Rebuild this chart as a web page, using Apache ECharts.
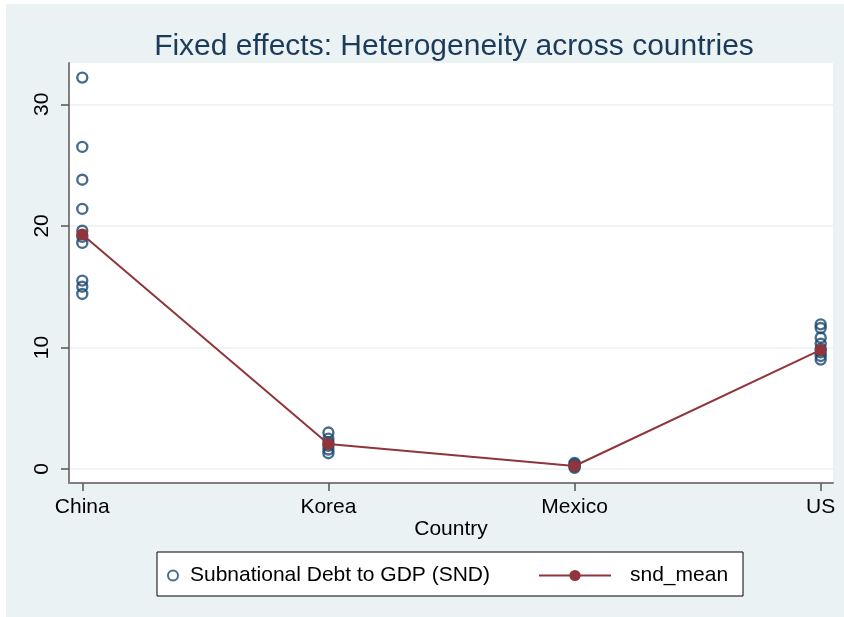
<!DOCTYPE html>
<html lang="en">

<head>
    <meta charset="UTF-8">
    <style>
        body {
            margin: 0;
            background: #fff;
        }

        #main {
            width: 844px;
            height: 617px;
        }
    </style>
    <title>Fixed effects</title>
</head>

<body>
    <div id="main"></div>

    <script src="https://cdn.jsdelivr.net/npm/echarts@6/dist/echarts.min.js"></script>
    <script>
        var countries = ['China', 'Korea', 'Mexico', 'US'];
        var sndChina = [32.2, 26.5, 23.8, 21.4, 19.6, 19.1, 18.6, 15.5, 15.0, 14.4];
        var sndKorea = [3.0, 2.5, 2.2, 1.9, 1.6, 1.3];
        var sndMexico = [0.5, 0.4, 0.3, 0.2, 0.1];
        var sndUS = [11.9, 11.6, 10.8, 10.3, 9.9, 9.6, 9.3, 9.0];
        var sndMean = [19.3, 2.05, 0.25, 9.8];
        var yTicks = [0, 10, 20, 30];

        var font = "'Liberation Sans', Arial, sans-serif";
        var navy = '#1a476f';
        var maroon = '#90353b';

        var scatterData = [];
        [sndChina, sndKorea, sndMexico, sndUS].forEach(function (arr, i) {
            arr.forEach(function (v) {
                scatterData.push([i, v]);
            });
        });
        var meanData = sndMean.map(function (v, i) {
            return [i, v];
        });

        var myChart = echarts.init(document.getElementById('main'));

        var option = {
            animation: false,
            backgroundColor: 'transparent',
            textStyle: { fontFamily: font },
            graphic: [{
                type: 'rect',
                z: -10,
                shape: { x: 6, y: 4, width: 838, height: 613 },
                style: { fill: '#eaf2f3' }
            }, {
                type: 'rect',
                z: -5,
                shape: { x: 157, y: 552, width: 586, height: 44 },
                style: { fill: '#fff', stroke: '#000', lineWidth: 1 }
            }],
            title: {
                text: 'Fixed effects: Heterogeneity across countries',
                left: 449,
                top: 27,
                textAlign: 'center',
                textStyle: {
                    fontFamily: font,
                    fontSize: 30,
                    fontWeight: 'normal',
                    color: '#1c3b5a'
                }
            },
            legend: [{
                data: ['Subnational Debt to GDP (SND)'],
                left: 167,
                top: 565,
                padding: 0,
                itemWidth: 20,
                itemHeight: 10,
                textStyle: { fontFamily: font, fontSize: 21, color: '#000', padding: [0, 0, 0, 2] }
            }, {
                data: ['snd_mean'],
                left: 538,
                top: 565,
                padding: 0,
                itemWidth: 72,
                itemHeight: 14,
                textStyle: { fontFamily: font, fontSize: 21, color: '#000', padding: [0, 0, 0, 14] }
            }],
            grid: {
                left: 69,
                top: 63,
                right: 11,
                bottom: 134,
                show: true,
                backgroundColor: '#fff',
                borderWidth: 0
            },
            xAxis: {
                type: 'value',
                min: -0.054,
                max: 3.05,
                name: 'Country',
                nameLocation: 'middle',
                nameMoveOverlap: false,
                nameGap: 36,
                nameTextStyle: { fontFamily: font, fontSize: 21, color: '#000' },
                axisLine: { onZero: false, lineStyle: { color: '#808080', width: 2 } },
                axisTick: {
                    show: true,
                    customValues: [0, 1, 2, 3],
                    length: 8,
                    lineStyle: { color: '#555', width: 1.5 }
                },
                axisLabel: {
                    customValues: [0, 1, 2, 3],
                    margin: 14,
                    fontFamily: font,
                    fontSize: 21,
                    color: '#000',
                    formatter: function (v) {
                        return countries[Math.round(v)];
                    }
                },
                splitLine: { show: false }
            },
            yAxis: {
                type: 'value',
                min: -1.15,
                max: 33.4,
                axisLine: { show: true, onZero: false, lineStyle: { color: '#808080', width: 2 } },
                axisTick: {
                    show: true,
                    customValues: yTicks,
                    length: 8,
                    lineStyle: { color: '#555', width: 1.5 }
                },
                axisLabel: {
                    customValues: yTicks,
                    rotate: 90,
                    margin: 16,
                    fontFamily: font,
                    fontSize: 21,
                    color: '#000'
                },
                splitLine: { show: true, lineStyle: { color: '#eaf2f3', width: 1.5 } }
            },
            series: [{
                name: 'Subnational Debt to GDP (SND)',
                type: 'scatter',
                data: scatterData,
                symbol: 'circle',
                symbolSize: 10,
                itemStyle: { color: 'transparent', borderColor: navy, borderWidth: 2.4 },
                z: 2
            }, {
                name: 'snd_mean',
                type: 'line',
                data: meanData,
                symbol: 'circle',
                symbolSize: 12,
                lineStyle: { color: maroon, width: 2 },
                itemStyle: { color: maroon },
                z: 3
            }]
        };

        myChart.setOption(option);
    </script>
</body>

</html>
